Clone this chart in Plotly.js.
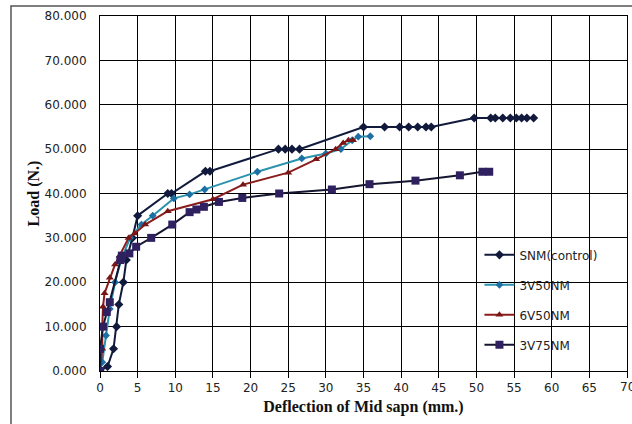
<!DOCTYPE html>
<html><head><meta charset="utf-8">
<script src="https://cdn.plot.ly/plotly-3.0.1.min.js"></script>
<style>html,body{margin:0;padding:0;background:#fff}#chart{width:632px;height:424px}</style>
</head><body><div id="chart"></div>
<script>
// SNM(control)
const snmX = [0, 1, 1.8, 2.2, 2.5, 3.1, 3.5, 4.3, 5, 9, 9.5, 14, 14.6, 23.7, 24.6, 25.5, 26.5, 35, 37.8, 39.8, 41, 42.2, 43.3, 44, 49.7, 51.9, 52.5, 53.5, 54.5, 55.3, 56, 56.7, 57.6];
const snmY = [0, 1, 5, 10, 15, 20, 25, 30, 35, 40, 40, 45, 45, 50, 50, 50, 50, 55, 55, 55, 55, 55, 55, 55, 57, 57, 57, 57, 57, 57, 57, 57, 57];
// 3V50NM
const v350X = [0, 0.3, 0.8, 1.3, 2, 2.8, 4, 5.5, 7, 9.8, 11.9, 13.9, 20.9, 26.8, 30, 32, 33.5, 34.3, 35.9];
const v350Y = [0, 2, 8, 14, 20, 25, 30, 33, 35, 38.9, 39.8, 40.9, 44.9, 47.9, 49, 50, 52, 52.8, 52.9];
// 6V50NM
const v650X = [0, 0.3, 0.3, 0.4, 0.6, 1.3, 2, 2.6, 3.8, 4.6, 6, 9, 15, 19, 25, 28.7, 31.3, 32.3, 33, 33.6];
const v650Y = [0, 5, 10, 14.5, 17.5, 21, 24, 26, 30, 31, 33, 36, 38.7, 42, 44.7, 47.7, 50, 51.4, 52, 52];
// 3V75NM
const v375X = [0, 0, 0.4, 0.9, 1.3, 2.7, 2.9, 3.9, 4.8, 6.8, 9.6, 11.9, 12.8, 13.8, 15.8, 18.9, 23.8, 30.8, 35.8, 41.9, 47.8, 50.8, 51.7];
const v375Y = [0, 5, 10, 13.3, 15.5, 25, 26, 26.5, 28, 30, 33, 35.8, 36.4, 37, 38.1, 39, 40, 40.9, 42.1, 42.9, 44.1, 44.9, 44.9];

const names = ['SNM(control)', '3V50NM', '6V50NM', '3V75NM'];
const xTicks = [0,5,10,15,20,25,30,35,40,45,50,55,60,65,70];
const yTicks = [0,10,20,30,40,50,60,70,80];
const yTickText = ['0.000','10.000','20.000','30.000','40.000','50.000','60.000','70.000','80.000'];

const traces = [
  {x: snmX, y: snmY, name: names[0], legendgroup: 'a', mode: 'lines+markers',
   line: {color: '#111a3c', width: 2}, marker: {symbol: 'diamond', size: 7, color: '#111a3c'}},
  {x: v350X, y: v350Y, name: names[1], legendgroup: 'b', mode: 'lines+markers',
   line: {color: '#2b93ad', width: 2}, marker: {symbol: 'diamond', size: 6, color: '#1c6fa3'}},
  {x: v650X, y: v650Y, name: names[2], legendgroup: 'c', mode: 'lines+markers',
   line: {color: '#8a1c1c', width: 2}, marker: {symbol: 'triangle-up', size: 7, color: '#7a1515'}},
  {x: v375X, y: v375Y, name: names[3], legendgroup: 'd', mode: 'lines+markers',
   line: {color: '#151530', width: 2}, marker: {symbol: 'square', size: 8, color: '#2f2160'}}
];

const L = 100, R = 627, T = 16, B = 371;
const W = R - L, H = B - T;
const px = v => (v - L) / W, py = v => (B - v) / H;

const layout = {
  width: 632, height: 424,
  margin: {l: L, r: 632 - R, t: T, b: 424 - B},
  paper_bgcolor: '#fff', plot_bgcolor: '#fff',
  showlegend: true,
  legend: {x: 0.72, y: 0.368, xanchor: 'left', yanchor: 'top', bgcolor: 'rgba(0,0,0,0)',
           font: {family: 'DejaVu Sans', size: 12, color: '#222'}, tracegroupgap: 11, itemwidth: 30},
  xaxis: {range: [0, 70], tickvals: xTicks, ticktext: xTicks.map(String),
          showgrid: true, gridcolor: '#000', gridwidth: 1, zeroline: false,
          showline: true, linecolor: '#000', linewidth: 1, mirror: true,
          ticks: 'outside', ticklen: 6, tickcolor: '#000',
          tickfont: {family: 'DejaVu Sans', size: 12, color: '#222'},
          title: {text: 'Deflection of Mid sapn (mm.)', standoff: 6,
                  font: {family: 'Liberation Serif', size: 16, color: '#111', weight: 'bold'}}},
  yaxis: {range: [0, 80], tickvals: yTicks, ticktext: yTickText,
          showgrid: true, gridcolor: '#000', gridwidth: 1, zeroline: false,
          showline: true, linecolor: '#000', linewidth: 1, mirror: true,
          ticks: 'outside', ticklen: 10, tickcolor: 'rgba(0,0,0,0)',
          tickfont: {family: 'DejaVu Sans', size: 12, color: '#222'},
          title: {text: 'Load (N.)', standoff: 0,
                  font: {family: 'Liberation Serif', size: 16, color: '#111', weight: 'bold'}}},
  annotations: [{text: '70', xref: 'x', yref: 'paper', x: 70, y: 0, yanchor: 'top', xanchor: 'center',
                 yshift: -7, showarrow: false, font: {family: 'DejaVu Sans', size: 12, color: '#222'}}],
  shapes: [{type: 'rect', xref: 'paper', yref: 'paper',
            x0: px(11), x1: px(640), y0: py(440), y1: py(6),
            line: {color: '#555', width: 1.5}, fillcolor: 'rgba(0,0,0,0)', layer: 'below'}]
};

Plotly.newPlot('chart', traces, layout, {displayModeBar: false, staticPlot: true});
</script></body></html>
